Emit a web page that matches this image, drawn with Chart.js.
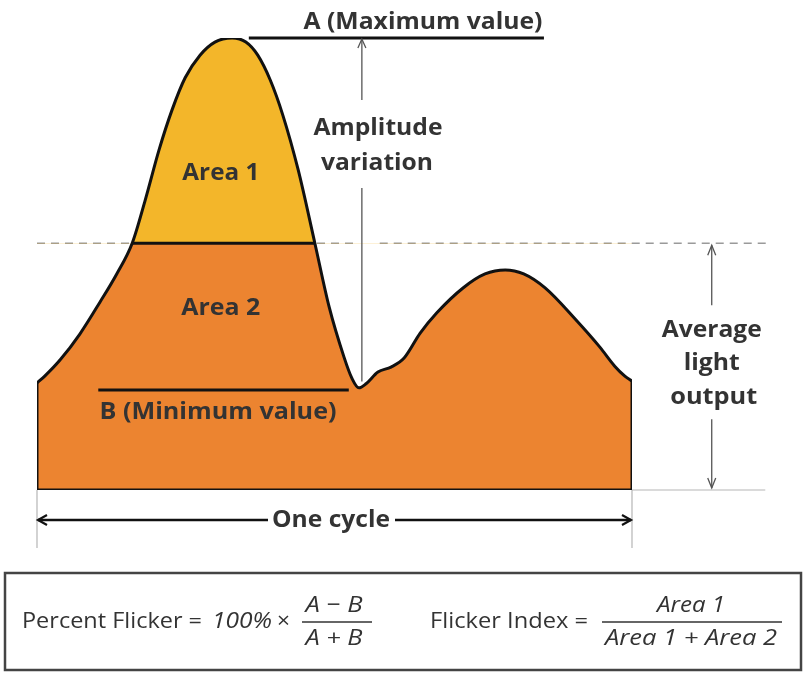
<!DOCTYPE html>
<html>
<head>
<meta charset="utf-8">
<script src="https://cdn.jsdelivr.net/npm/chart.js@4"></script>
<style>
  html, body { margin: 0; padding: 0; background: #fff; }
  canvas { display: block; }
</style>
</head>
<body>
<canvas id="flicker-chart" width="806" height="675"></canvas>
<script>
// waveform over one cycle: phase (% of cycle) and relative light output (peak = 100)
const phase = [0, 1.3, 3.9, 7.2, 10.6, 13.4, 16.0, 18.2, 20.5, 22.7, 24.9, 27.4, 29.9, 32.8,
  35.1, 37.1, 39.2, 41.3, 43.9, 46.7, 49.1, 51.6, 52.9, 54.1, 55.3, 57.3, 59.5, 61.7, 64.4,
  67.2, 71.6, 75.3, 78.7, 81.8, 85.4, 90.6, 94.6, 97.1, 98.8, 100];
const light = [23.7, 25.2, 28.8, 34.5, 41.6, 47.8, 54.6, 64.2, 75.2, 84.1, 91.2, 96.2, 99.1, 100,
  99.1, 96.2, 90.7, 83.0, 70.8, 54.6, 40.5, 29.4, 24.8, 22.6, 23.5, 26.1, 27.2, 29.2, 34.7,
  39.2, 44.7, 47.8, 48.7, 47.8, 44.7, 37.6, 31.6, 27.4, 25.2, 24.1];

const maxValue = 100;     // A
const minValue = 22.1;    // B
const avgValue = 54.6;    // average light output
const area1Edges = [16.0, 46.7];   // where the curve crosses the average
const maxLine = [35.6, 85.2];
const minLine = [10.3, 52.4];
const amplitudeAt = 54.6;

const curve = phase.map((p, i) => ({ x: p, y: light[i] }));
const edges = [
  { x: 0, y: light[0] }, { x: 0, y: 0 },
  { x: 100, y: 0 }, { x: 100, y: light[light.length - 1] }
];

const boldFont = '700 23.5px "Open Sans", "Liberation Sans", sans-serif';
const textColor = '#333333';

// draw text squeezed to a given width
function fitText(ctx, s, x, y, font, w, align) {
  ctx.save();
  ctx.font = font;
  ctx.textBaseline = 'middle';
  ctx.textAlign = align || 'center';
  const m = ctx.measureText(s).width;
  ctx.translate(x, y);
  ctx.scale(w / m, 1);
  ctx.fillText(s, 0, 0);
  ctx.restore();
}

function line(ctx, x1, y1, x2, y2) {
  ctx.beginPath();
  ctx.moveTo(x1, y1);
  ctx.lineTo(x2, y2);
  ctx.stroke();
}

// open V arrow head, tip at (x,y), pointing in direction (dx,dy)
function head(ctx, x, y, dx, dy, len, spread) {
  const px = -dy, py = dx;
  ctx.beginPath();
  ctx.moveTo(x - dx * len + px * spread, y - dy * len + py * spread);
  ctx.lineTo(x, y);
  ctx.lineTo(x - dx * len - px * spread, y - dy * len - py * spread);
  ctx.stroke();
}

const annotations = {
  id: 'annotations',
  beforeDatasetsDraw(chart) {
    const { ctx, scales: { x, y } } = chart;
    const yAvg = y.getPixelForValue(avgValue);
    ctx.save();
    // dashed average line
    ctx.strokeStyle = '#9a9a9a';
    ctx.lineWidth = 1.6;
    ctx.setLineDash([8, 6]);
    line(ctx, x.getPixelForValue(0), yAvg, x.getPixelForValue(53.4), yAvg);
    line(ctx, x.getPixelForValue(57.6), yAvg, x.getPixelForValue(123), yAvg);
    ctx.setLineDash([]);
    ctx.restore();
  },
  afterDatasetsDraw(chart) {
    const { ctx, scales: { x, y } } = chart;
    const X = v => x.getPixelForValue(v);
    const Y = v => y.getPixelForValue(v);
    ctx.save();
    ctx.lineCap = 'butt';

    // A and B lines
    ctx.strokeStyle = '#111';
    ctx.lineWidth = 3;
    line(ctx, X(maxLine[0]), Y(maxValue), X(maxLine[1]), Y(maxValue));
    line(ctx, X(minLine[0]), Y(minValue), X(minLine[1]), Y(minValue));
    // border between Area 1 and Area 2
    line(ctx, X(area1Edges[0]), Y(avgValue), X(area1Edges[1]), Y(avgValue));

    // amplitude arrow
    ctx.strokeStyle = '#555';
    ctx.lineWidth = 1.3;
    const ax = X(amplitudeAt);
    line(ctx, ax, Y(maxValue) + 1, ax, Y(maxValue) + 62);
    line(ctx, ax, Y(maxValue) + 150, ax, Y(24));
    head(ctx, ax, Y(maxValue) + 1, 0, -1, 9, 4);

    // average light output arrow
    const rx = X(113.4);
    line(ctx, rx, Y(avgValue) + 2, rx, Y(avgValue) + 62);
    line(ctx, rx, Y(avgValue) + 176, rx, Y(0) - 2);
    head(ctx, rx, Y(avgValue) + 2, 0, -1, 10, 4);
    head(ctx, rx, Y(0) - 2, 0, 1, 10, 4);

    // grey extension lines
    ctx.strokeStyle = '#b5b5b5';
    ctx.lineWidth = 1.2;
    line(ctx, X(100), Y(0), X(122.4), Y(0));
    line(ctx, X(0), Y(0), X(0), Y(0) + 58);
    line(ctx, X(100), Y(0), X(100), Y(0) + 58);

    // one cycle arrow
    const cy = Y(0) + 30;
    ctx.strokeStyle = '#111';
    ctx.lineWidth = 2.6;
    line(ctx, X(0) + 1, cy, 268, cy);
    line(ctx, 395, cy, X(100) - 1, cy);
    ctx.lineWidth = 2.2;
    head(ctx, X(0) + 1, cy, -1, 0, 9, 5);
    head(ctx, X(100) - 1, cy, 1, 0, 9, 5);

    // labels
    ctx.fillStyle = textColor;
    fitText(ctx, 'A (Maximum value)', 423, Y(maxValue) - 16, boldFont, 239);
    fitText(ctx, 'Amplitude', 378, 128, boldFont, 129);
    fitText(ctx, 'variation', 377, 163, boldFont, 112);
    fitText(ctx, 'Area 1', X(30.9), 173, boldFont, 77);
    fitText(ctx, 'Area 2', X(30.9), 308, boldFont, 79);
    fitText(ctx, 'B (Minimum value)', 218, Y(minValue) + 22, boldFont, 237);
    fitText(ctx, 'Average', rx, 330, boldFont, 100);
    fitText(ctx, 'light', rx, 363, boldFont, 56);
    fitText(ctx, 'output', rx + 2, 397, boldFont, 87);
    fitText(ctx, 'One cycle', 331, cy, boldFont, 118);

    // formula box
    ctx.strokeStyle = '#444';
    ctx.lineWidth = 2.5;
    ctx.strokeRect(5, 573, 796, 97);
    const reg = '500 22.5px "Open Sans", "Liberation Sans", sans-serif';
    const ita = 'italic 500 22.5px "Open Sans", "Liberation Sans", sans-serif';
    ctx.fillStyle = '#333';
    fitText(ctx, 'Percent Flicker =', 22, 622, reg, 180, 'left');
    fitText(ctx, '100%', 212, 622, ita, 60, 'left');
    fitText(ctx, '×', 277, 622, reg, 13, 'left');
    fitText(ctx, 'A − B', 334, 606, ita, 57);
    fitText(ctx, 'A + B', 334, 639, ita, 57);
    fitText(ctx, 'Flicker Index =', 430, 622, reg, 158, 'left');
    fitText(ctx, 'Area 1', 691, 606, ita, 68);
    fitText(ctx, 'Area 1 + Area 2', 691, 639, ita, 172);
    ctx.strokeStyle = '#333';
    ctx.lineWidth = 1.6;
    line(ctx, 302, 622, 372, 622);
    line(ctx, 602, 622, 782, 622);

    ctx.restore();
  }
};

const chartCanvas = document.querySelector('#flicker-chart');

new Chart(chartCanvas, {
  type: 'line',
  data: {
    datasets: [
      {
        // outer edges and baseline of the waveform
        data: edges,
        borderColor: '#111',
        borderWidth: 3,
        tension: 0,
        fill: false,
        order: 0
      },
      {
        // Area 1: part of the curve above the average
        data: curve,
        borderColor: '#111',
        borderWidth: 3,
        cubicInterpolationMode: 'monotone',
        fill: { target: { value: avgValue }, above: '#F3B62A', below: 'rgba(0,0,0,0)' },
        order: 1
      },
      {
        // whole waveform filled down to zero
        data: curve,
        borderWidth: 0,
        borderColor: 'rgba(0,0,0,0)',
        backgroundColor: '#EC8430',
        cubicInterpolationMode: 'monotone',
        fill: 'origin',
        order: 2
      }
    ]
  },
  options: {
    responsive: false,
    animation: false,
    layout: { padding: { left: 37, right: 174, top: 38, bottom: 185 } },
    elements: { point: { radius: 0, hoverRadius: 0 } },
    plugins: { legend: { display: false }, tooltip: { enabled: false } },
    scales: {
      x: { type: 'linear', min: 0, max: 100, display: false },
      y: { min: 0, max: 100, display: false }
    }
  },
  plugins: [annotations]
});
</script>
</body>
</html>
